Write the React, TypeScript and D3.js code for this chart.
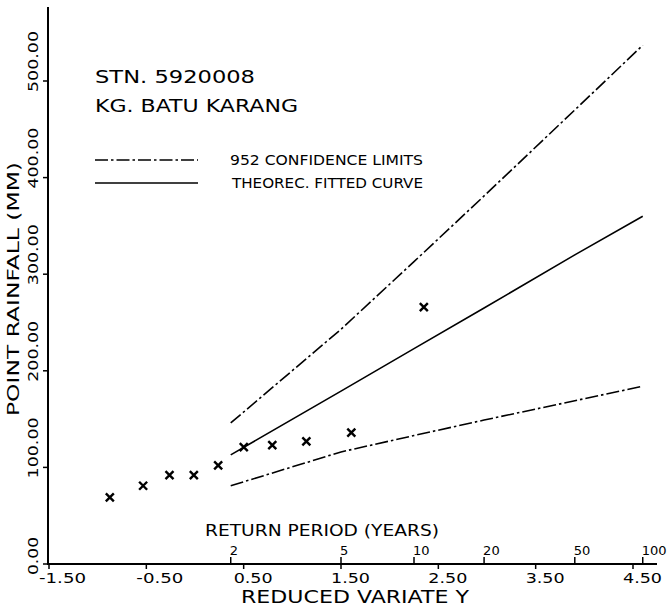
import React from "react";
import * as d3 from "d3";

// Observed annual maxima (plotted against Gumbel reduced variate)
const reducedVariate = [-0.875, -0.533, -0.262, -0.012, 0.238, 0.501, 0.794, 1.144, 1.606, 2.351];
const rainfall = [69, 81, 92, 92, 102, 121, 123, 127, 136, 266];

// Return periods and their reduced variate positions
const returnPeriods = ["2", "5", "10", "20", "50", "100"];
const returnVariate = [0.367, 1.5, 2.25, 2.97, 3.902, 4.6];

// Fitted curve and 95% confidence limits at those return periods
const fitted = [113, 179, 223, 265, 320, 360];
const upperLimit = [146, 243, 313, 381, 470, 537];
const lowerLimit = [81, 116, 133, 149, 169, 184];

const xTicks = [-1.5, -0.5, 0.5, 1.5, 2.5, 3.5, 4.5];
const xTickLabels = ["-1.50", "-0.50", "0.50", "1.50", "2.50", "3.50", "4.50"];
const yTicks = [0, 100, 200, 300, 400, 500];
const yTickLabels = ["0.00", "100.00", "200.00", "300.00", "400.00", "500.00"];

const FONT = "DejaVu Sans, sans-serif";

export default function App() {
  const x = d3.scaleLinear().domain([-1.5, 4.5]).range([49, 633]);
  const y = d3.scaleLinear().domain([0, 500]).range([564, 81]);

  const line = d3
    .line<number>()
    .x((_, i) => x(returnVariate[i]))
    .y((d) => y(d));

  const axisY = y(0);
  const axisX = 48;
  const dashDot = "13,3,2.5,3";

  return (
    <svg
      width={668}
      height={610}
      style={{ position: "fixed", left: 0, top: 0, background: "#fff" }}
      fontFamily={FONT}
    >
      <rect x={0} y={0} width={668} height={610} fill="#fff" />
      {/* axes */}
      <line x1={axisX} y1={axisY} x2={657} y2={axisY} stroke="#000" strokeWidth={2} />
      <line x1={axisX} y1={axisY + 1} x2={axisX} y2={7} stroke="#000" strokeWidth={2} />

      {/* y ticks */}
      {yTicks.map((t, i) => {
        const len = yTickLabels[i].length >= 6 ? 61 : 38;
        return (
          <g key={"yt" + i}>
            <line x1={axisX - 5} x2={axisX} y1={y(t)} y2={y(t)} stroke="#000" strokeWidth={1.5} />
            <text
              transform={`translate(38,${y(t) + 11}) rotate(-90)`}
              fontSize={14}
              textLength={len}
              lengthAdjust="spacingAndGlyphs"
            >
              {yTickLabels[i]}
            </text>
          </g>
        );
      })}

      {/* x ticks */}
      {xTicks.map((t, i) => {
        const len = xTickLabels[i].length >= 5 ? 47 : 39;
        return (
          <g key={"xt" + i}>
            <line x1={x(t)} x2={x(t)} y1={axisY} y2={axisY + 5} stroke="#000" strokeWidth={1.5} />
            <text
              x={x(t) - 10}
              y={583}
              fontSize={14}
              textLength={len}
              lengthAdjust="spacingAndGlyphs"
            >
              {xTickLabels[i]}
            </text>
          </g>
        );
      })}

      {/* return period ticks */}
      {returnPeriods.map((rp, i) => (
        <g key={"rp" + i}>
          <line
            x1={x(returnVariate[i])}
            x2={x(returnVariate[i])}
            y1={axisY}
            y2={axisY - 7}
            stroke="#000"
            strokeWidth={1.5}
          />
          <text
            x={x(returnVariate[i]) - 1}
            y={555}
            fontSize={13}
            textLength={rp.length * 8.3}
            lengthAdjust="spacingAndGlyphs"
          >
            {rp}
          </text>
        </g>
      ))}

      {/* axis titles */}
      <text x={205} y={536} fontSize={16} textLength={234} lengthAdjust="spacingAndGlyphs">
        RETURN PERIOD (YEARS)
      </text>
      <text x={241} y={603} fontSize={18} textLength={228} lengthAdjust="spacingAndGlyphs">
        REDUCED VARIATE Y
      </text>
      <text
        transform="translate(19,416) rotate(-90)"
        fontSize={16.5}
        textLength={254}
        lengthAdjust="spacingAndGlyphs"
      >
        POINT RAINFALL (MM)
      </text>

      {/* station text */}
      <text x={95} y={83} fontSize={18} textLength={160} lengthAdjust="spacingAndGlyphs">
        STN. 5920008
      </text>
      <text x={95} y={112} fontSize={18} textLength={203} lengthAdjust="spacingAndGlyphs">
        KG. BATU KARANG
      </text>

      {/* legend */}
      <line x1={95} x2={198} y1={160} y2={160} stroke="#000" strokeWidth={1.5} strokeDasharray={dashDot} />
      <text x={230} y={165} fontSize={13.5} textLength={193} lengthAdjust="spacingAndGlyphs">
        952 CONFIDENCE LIMITS
      </text>
      <line x1={95} x2={198} y1={183} y2={183} stroke="#000" strokeWidth={1.5} />
      <text x={232} y={188} fontSize={13.5} textLength={191} lengthAdjust="spacingAndGlyphs">
        THEOREC. FITTED CURVE
      </text>

      {/* curves */}
      <path d={line(upperLimit) || ""} fill="none" stroke="#000" strokeWidth={1.6} strokeDasharray={dashDot} />
      <path d={line(lowerLimit) || ""} fill="none" stroke="#000" strokeWidth={1.6} strokeDasharray={dashDot} />
      <path d={line(fitted) || ""} fill="none" stroke="#000" strokeWidth={1.6} />

      {/* observations */}
      {rainfall.map((v, i) => (
        <path
          key={"pt" + i}
          transform={`translate(${x(reducedVariate[i])},${y(v)})`}
          d="M-4,-4L4,4M-4,4L4,-4"
          stroke="#000"
          strokeWidth={2.4}
          fill="none"
        />
      ))}
    </svg>
  );
}
